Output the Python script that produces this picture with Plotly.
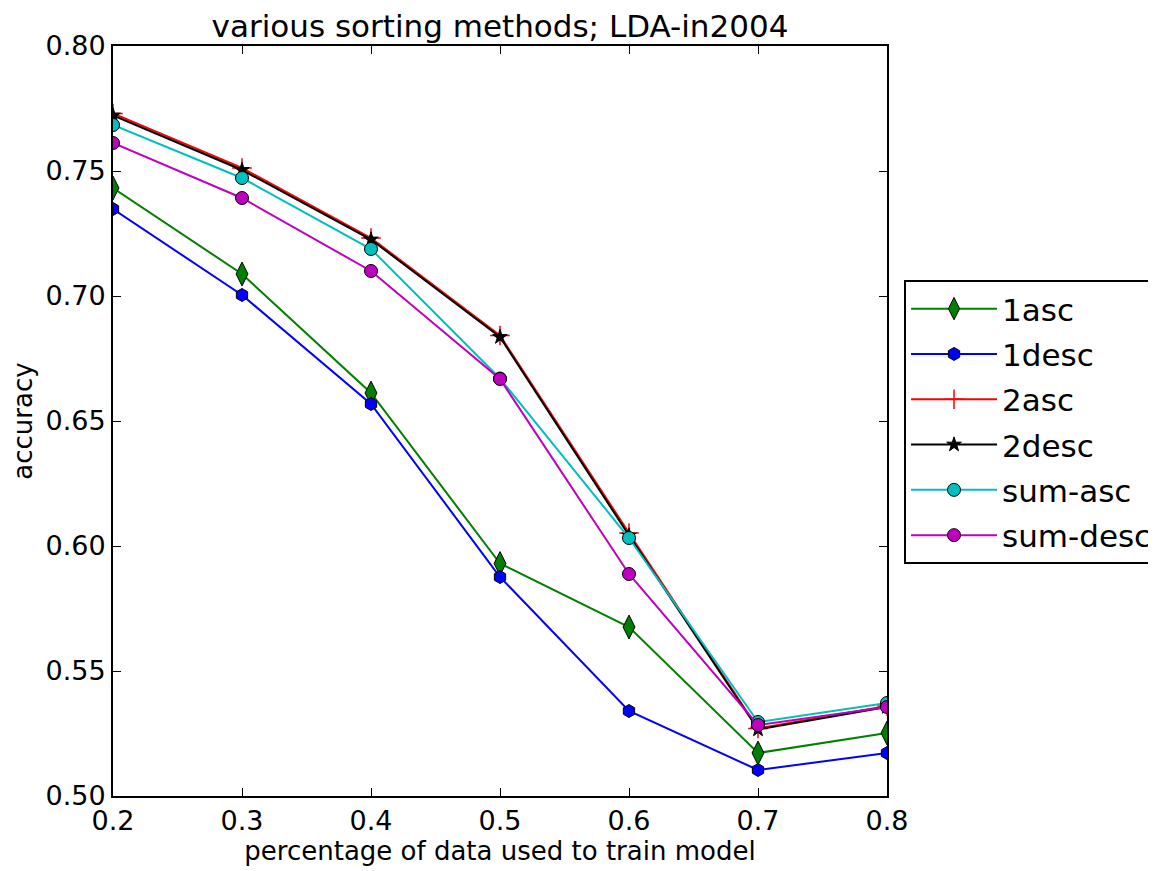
import plotly.graph_objects as go

x_vals = [0.2, 0.3, 0.4, 0.5, 0.6, 0.7, 0.8]

asc1 = [0.7432, 0.7088, 0.6612, 0.5930, 0.5676, 0.5172, 0.5252]
desc1 = [0.7348, 0.7004, 0.6568, 0.5876, 0.5340, 0.5104, 0.5172]
asc2 = [0.7730, 0.7512, 0.7232, 0.6842, 0.6052, 0.5270, 0.5360]
desc2 = [0.7722, 0.7504, 0.7226, 0.6836, 0.6042, 0.5266, 0.5356]
sum_asc = [0.7684, 0.7472, 0.7188, 0.6670, 0.6032, 0.5296, 0.5372]
sum_desc = [0.7612, 0.7392, 0.7100, 0.6668, 0.5888, 0.5284, 0.5356]

series = [
    ("1asc", asc1, "#008000", "diamond-tall", 17),
    ("1desc", desc1, "#0000ff", "hexagon", 13),
    ("2asc", asc2, "#ff0000", "cross-thin", 14),
    ("2desc", desc2, "#000000", "star", 11),
    ("sum-asc", sum_asc, "#00bfbf", "circle", 13),
    ("sum-desc", sum_desc, "#bf00bf", "circle", 13),
]

fig = go.Figure()
for i, (name, vals, color, sym, size) in enumerate(series):
    if sym == "cross-thin":
        marker = dict(symbol=sym, size=size, color=color, line=dict(color=color, width=1.5))
    else:
        marker = dict(symbol=sym, size=size, color=color, line=dict(color="#000000", width=1))
    fig.add_trace(go.Scatter(
        x=x_vals, y=vals, name=name, mode="lines+markers",
        line=dict(color=color, width=2), marker=marker,
        legendgroup=f"g{i}",
    ))

W, H = 1200, 871
ML, MR, MT, MB = 105, 1200 - 105 - 774, 38, 83
font_family = "DejaVu Sans"
fig.update_layout(
    width=W, height=H,
    margin=dict(l=ML, r=MR, t=MT, b=MB),
    paper_bgcolor="white", plot_bgcolor="white",
    font=dict(family=font_family, color="#000000", size=27),
    title=dict(text="various sorting methods; LDA-in2004", x=(ML + ML + 774) / 2 / W, xanchor="center",
               y=1 - 18 / H, yanchor="middle", font=dict(size=31)),
    showlegend=True,
    legend=dict(
        x=1.022, y=0.688, xanchor="left", yanchor="top",
        bordercolor="#000000", borderwidth=2, bgcolor="white",
        font=dict(size=31), traceorder="grouped", tracegroupgap=2,
        itemwidth=86,
    ),
)
fig.update_xaxes(
    range=[0.2, 0.8], tickvals=x_vals, ticktext=[f"{v:.1f}" for v in x_vals],
    ticks="inside", ticklen=8, tickcolor="#000000", showgrid=False, zeroline=False,
    showline=True, linecolor="#000000", linewidth=2, mirror="ticks",
    title=dict(text="percentage of data used to train model", font=dict(size=26), standoff=6),
    tickfont=dict(size=27),
)
y_ticks = [0.50, 0.55, 0.60, 0.65, 0.70, 0.75, 0.80]
fig.update_yaxes(
    range=[0.5, 0.8], tickvals=y_ticks, ticktext=[f"{v:.2f}" for v in y_ticks],
    ticks="inside", ticklen=8, tickcolor="#000000", showgrid=False, zeroline=False,
    showline=True, linecolor="#000000", linewidth=2, mirror="ticks",
    title=dict(text="accuracy", font=dict(size=26), standoff=8),
    tickfont=dict(size=27),
)

fig.write_html("out.html")
